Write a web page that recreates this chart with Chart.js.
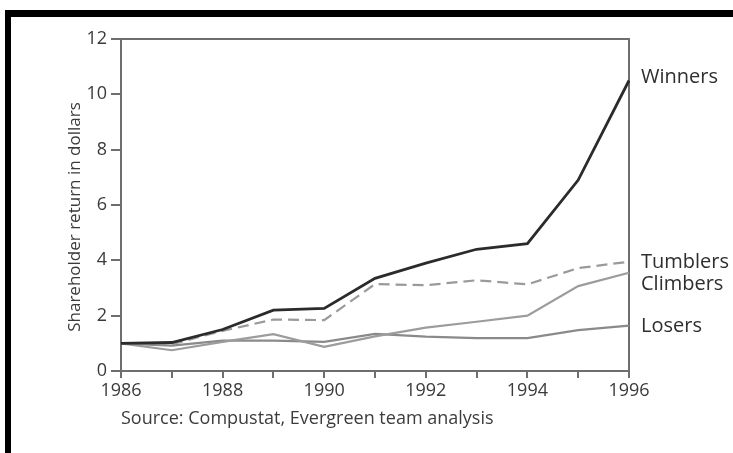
<!DOCTYPE html>
<html>
<head>
<meta charset="utf-8">
<script src="https://cdn.jsdelivr.net/npm/chart.js@4/dist/chart.umd.min.js"></script>
<style>
  html, body { margin: 0; padding: 0; background: #fff; }
  #wrap { position: relative; width: 733px; height: 453px; overflow: hidden; }
  #frameTop { position: absolute; left: 5px; top: 10px; width: 728px; height: 7px; background: #000; }
  #frameLeft { position: absolute; left: 5px; top: 10px; width: 6px; height: 443px; background: #000; }
  #source { position: absolute; left: 121px; top: 405px; font: 18px "Open Sans", sans-serif; color: #3c3c3c; white-space: nowrap; }
  canvas { position: absolute; left: 0; top: 0; }
</style>
</head>
<body>
<div id="wrap">
  <canvas id="chart" width="733" height="453"></canvas>
  <div id="frameTop"></div>
  <div id="frameLeft"></div>
  <div id="source">Source: Compustat, Evergreen team analysis</div>
</div>
<script>
const years = ['1986', '1987', '1988', '1989', '1990', '1991', '1992', '1993', '1994', '1995', '1996'];
const winners = [1.0, 1.03, 1.5, 2.2, 2.26, 3.35, 3.9, 4.4, 4.6, 6.9, 10.5];
const tumblers = [1.0, 0.97, 1.45, 1.86, 1.84, 3.14, 3.1, 3.28, 3.13, 3.72, 3.95];
const climbers = [1.0, 0.75, 1.05, 1.33, 0.87, 1.25, 1.57, 1.78, 2.0, 3.07, 3.55];
const losers = [1.0, 0.92, 1.1, 1.1, 1.05, 1.34, 1.24, 1.19, 1.19, 1.48, 1.64];
const seriesNames = ['Winners', 'Tumblers', 'Climbers', 'Losers'];
const yTicks = [0, 2, 4, 6, 8, 10, 12];
const yTitle = 'Shareholder return in dollars';

const axisColor = '#6e6e6e';
const textColor = '#3a3a3a';
const font = 'Open Sans';

// right-hand series labels, nudged so they don't overlap
const endLabels = {
    id: 'endLabels',
    afterDatasetsDraw(chart) {
        const ctx = chart.ctx;
        const area = chart.chartArea;
        const y = chart.scales.y;
        const nudge = [-3, 1, 12, 1];
        ctx.save();
        ctx.font = '20px "' + font + '"';
        ctx.fillStyle = '#2e2e2e';
        ctx.textBaseline = 'middle';
        chart.data.datasets.forEach((ds, i) => {
            const last = ds.data[ds.data.length - 1];
            ctx.fillText(ds.label, area.right + 12, y.getPixelForValue(last) + nudge[i]);
        });
        ctx.restore();
    }
};

// top and right edges of the plot box, plus the rotated y title
const plotBox = {
    id: 'plotBox',
    beforeDatasetsDraw(chart) {
        const ctx = chart.ctx;
        const a = chart.chartArea;
        ctx.save();
        ctx.strokeStyle = axisColor;
        ctx.lineWidth = 2;
        ctx.beginPath();
        ctx.moveTo(a.left, a.top);
        ctx.lineTo(a.right, a.top);
        ctx.lineTo(a.right, a.bottom);
        ctx.stroke();

        ctx.translate(75, (a.top + a.bottom) / 2 + 12);
        ctx.rotate(-Math.PI / 2);
        ctx.font = '17px "' + font + '"';
        ctx.fillStyle = textColor;
        ctx.textAlign = 'center';
        ctx.textBaseline = 'middle';
        ctx.fillText(yTitle, 0, 0);
        ctx.restore();
    }
};

new Chart(document.getElementById('chart').getContext('2d'), {
    type: 'line',
    data: {
        labels: years,
        datasets: [
            { label: seriesNames[0], data: winners, borderColor: '#2b2b2b', borderWidth: 2.8 },
            { label: seriesNames[1], data: tumblers, borderColor: '#9a9a9a', borderWidth: 2.2, borderDash: [11, 6] },
            { label: seriesNames[2], data: climbers, borderColor: '#9c9c9c', borderWidth: 2.2 },
            { label: seriesNames[3], data: losers, borderColor: '#8a8a8a', borderWidth: 2.2 }
        ]
    },
    options: {
        responsive: false,
        animation: false,
        events: [],
        layout: { padding: { top: 39, right: 104, left: 0, bottom: 52 } },
        elements: { point: { radius: 0 }, line: { tension: 0 } },
        plugins: { legend: { display: false }, tooltip: { enabled: false } },
        scales: {
            x: {
                offset: false,
                afterFit(scale) { scale.height = 30; },
                border: { display: true, color: axisColor, width: 2 },
                grid: { drawOnChartArea: false, drawTicks: true, tickLength: 7, color: axisColor, lineWidth: 2 },
                ticks: {
                    autoSkip: false,
                    maxRotation: 0,
                    padding: 2,
                    color: textColor,
                    font: { family: font, size: 18 },
                    callback: (v, i) => (i % 2 === 0 ? years[i] : '')
                }
            },
            y: {
                min: 0,
                max: 12,
                afterFit(scale) { scale.width = 121; },
                afterBuildTicks(scale) { scale.ticks = yTicks.map(v => ({ value: v })); },
                border: { display: true, color: axisColor, width: 2 },
                grid: { drawOnChartArea: false, drawTicks: true, tickLength: 10, color: axisColor, lineWidth: 2 },
                ticks: { padding: 4, color: textColor, font: { family: font, size: 18 } }
            }
        }
    },
    plugins: [plotBox, endLabels]
});
</script>
</body>
</html>
